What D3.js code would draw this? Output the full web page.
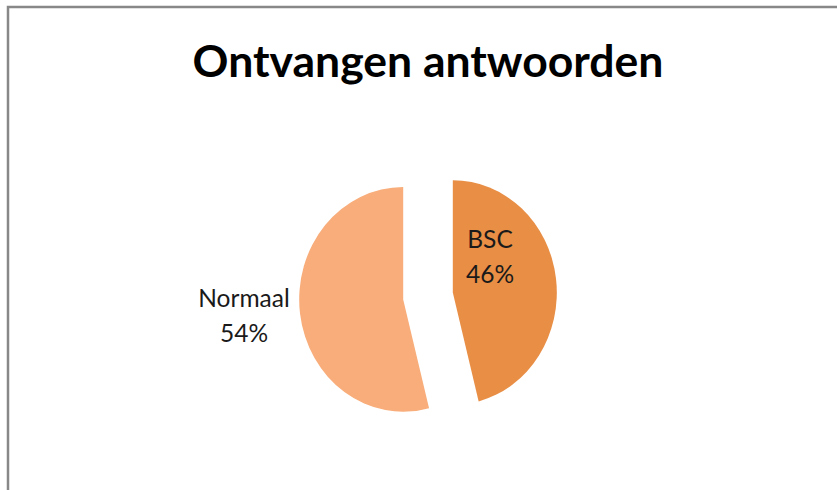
<!DOCTYPE html>
<html>
<head>
    <meta charset="UTF-8">
    <title>Ontvangen antwoorden</title>
    <style>
        body {
            margin: 0;
            padding: 0;
            background: #ffffff;
        }
        svg {
            display: block;
        }
        .title {
            font-family: 'Lato', 'Open Sans', sans-serif;
            font-weight: bold;
            fill: #000000;
        }
        .label {
            font-family: 'Lato', 'Open Sans', sans-serif;
            fill: #1a1a1a;
        }
    </style>
</head>
<body>

<svg></svg>

<script src="https://d3js.org/d3.v7.min.js"></script>
<script>

// chart data
const title = "Ontvangen antwoorden";
const categories = ["BSC", "Normaal"];
const values = [46, 54];
const colors = ["#e88e45", "#f8ad7a"];

// dimensions
let w = 837, h = 490;
let cx = 428, cy = 296;      // pie centre
let r = 104, squash = 1.08;  // the original is slightly taller than wide
let explode = 25;

let svg = d3.select("svg")
    .attr("width", w)
    .attr("height", h);

// frame (only left and top edges show in the original)
svg.append("path")
    .attr("d", `M8,${h} L8,7 L${w},7`)
    .attr("fill", "none")
    .attr("stroke", "#888888")
    .attr("stroke-width", 2.5);

// title
svg.append("text")
    .attr("class", "title")
    .attr("x", cx)
    .attr("y", 77)
    .attr("text-anchor", "middle")
    .attr("font-size", 44.5)
    .text(title);

// pie
let pie = d3.pie().sort(null).value(d => d.value);
let arcs = pie(categories.map((c, i) => ({ name: c, value: values[i], color: colors[i] })));
let arc = d3.arc().innerRadius(0).outerRadius(r);

let g = svg.append("g")
    .attr("transform", `translate(${cx},${cy}) scale(1,${squash})`);

g.selectAll("path")
    .data(arcs)
    .enter()
    .append("path")
    .attr("d", arc)
    .attr("fill", d => d.data.color)
    .attr("transform", d => {
        let mid = (d.startAngle + d.endAngle) / 2;
        return `translate(${explode * Math.sin(mid)},${-explode * Math.cos(mid)})`;
    });

// labels: BSC sits inside its slice, Normaal outside to the left
let labelPos = {
    "BSC": [62, -48],
    "Normaal": [-184, 11]
};

let labels = svg.append("g")
    .attr("transform", `translate(${cx},${cy})`);

arcs.forEach(d => {
    let p = labelPos[d.data.name];
    let t = labels.append("text")
        .attr("class", "label")
        .attr("text-anchor", "middle")
        .attr("font-size", 24.5)
        .attr("transform", `translate(${p[0]},${p[1]})`);
    t.append("tspan").attr("x", 0).attr("y", 0).text(d.data.name);
    t.append("tspan").attr("x", 0).attr("y", 35).text(`${d.data.value}%`);
});

</script>
</body>
</html>
